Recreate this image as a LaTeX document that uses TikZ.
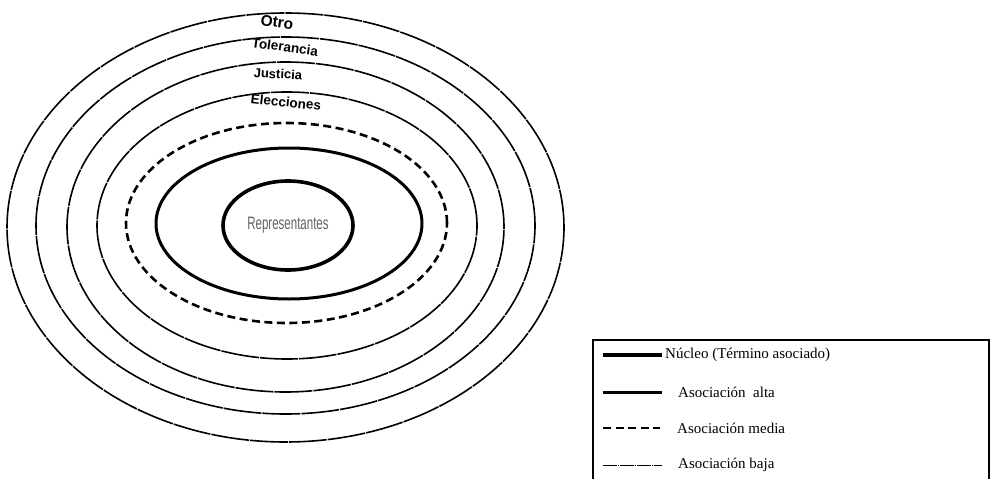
\documentclass[tikz,border=0pt]{standalone}
\usepackage{fontspec}
\setmainfont{Liberation Serif}
\newfontfamily\ringfont{Liberation Sans}
\usepackage{graphicx}
\usepackage{xcolor}
\usepackage{tikz}
\usetikzlibrary{shapes.geometric, positioning}
\definecolor{coregray}{HTML}{626262}

\begin{document}
\begin{tikzpicture}[
        x=1pt, y=-1pt,
        ring/.style={ellipse, draw, inner sep=0pt},
        nucleo/.style={line width=3.6pt},
        alta/.style={line width=3pt},
        media/.style={line width=2.6pt, dash pattern=on 8pt off 4.5pt},
        baja/.style={line width=1.6pt, dash pattern=on 38pt off 1pt},
        bajakey/.style={line width=0.9pt, dash pattern=on 14pt off 1pt on 1pt off 1pt},
        ringlabel/.style={font=\ringfont\bfseries\fontsize{13.5}{15}\selectfont, inner sep=0pt},
        legtext/.style={font=\fontsize{15}{17}\selectfont, anchor=west, inner sep=0pt}
    ]
        \useasboundingbox (0,0) rectangle (991,479);

        % concentric rings
        \node[ring, baja, minimum width=557pt, minimum height=429pt] (otroring) at (285.5,227.5) {};
        \node[ring, baja, minimum width=499pt, minimum height=377pt] (tolring) at (285.5,225.5) {};
        \node[ring, baja, minimum width=437pt, minimum height=330pt] (jusring) at (285.5,227) {};
        \node[ring, baja, minimum width=380pt, minimum height=267pt] (eleccring) at (287,225.5) {};
        \node[ring, media, minimum width=321pt, minimum height=200pt] (media) at (286.5,223) {};
        \node[ring, alta, minimum width=266pt, minimum height=151pt] (alta) at (289,223.5) {};
        \node[ring, nucleo, minimum width=130pt, minimum height=89pt, text=coregray,
              font=\ringfont\fontsize{18}{20}\selectfont] (core) at (288,225.5)
              {\scalebox{0.64}[1]{Representantes}};

        % ring labels
        \node[ringlabel, font=\ringfont\bfseries\fontsize{15.5}{17}\selectfont, rotate=-8] (otro) at (277,22) {Otro};
        \node[ringlabel, rotate=-8] (tolerancia) at (285,47) {Tolerancia};
        \node[ringlabel, font=\ringfont\bfseries\fontsize{13}{14}\selectfont, rotate=-3] (justicia) at (278,74) {Justicia};
        \node[ringlabel, rotate=-6] (elecciones) at (286,102) {Elecciones};

        % legend
        \draw[line width=1.6pt] (593,482) -- (593,340) -- (989,340) -- (989,482);

        \coordinate (k1) at (603,355);
        \draw[nucleo] (k1) -- ++(59,0);
        \node[legtext] (leg1) at (665,355) {Núcleo (Término asociado)};

        \coordinate (k2) at (603,392);
        \draw[alta] (k2) -- ++(59,0);
        \node[legtext] (leg2) at (678,392) {Asociación~ alta};

        \coordinate (k3) at (603,428);
        \draw[media] (k3) -- ++(57,0);
        \node[legtext] (leg3) at (677,428) {Asociación media};

        \coordinate (k4) at (603,465);
        \draw[bajakey] (k4) -- ++(59,0);
        \node[legtext] (leg4) at (678,465) {Asociación baja};
    \end{tikzpicture}
\end{document}
